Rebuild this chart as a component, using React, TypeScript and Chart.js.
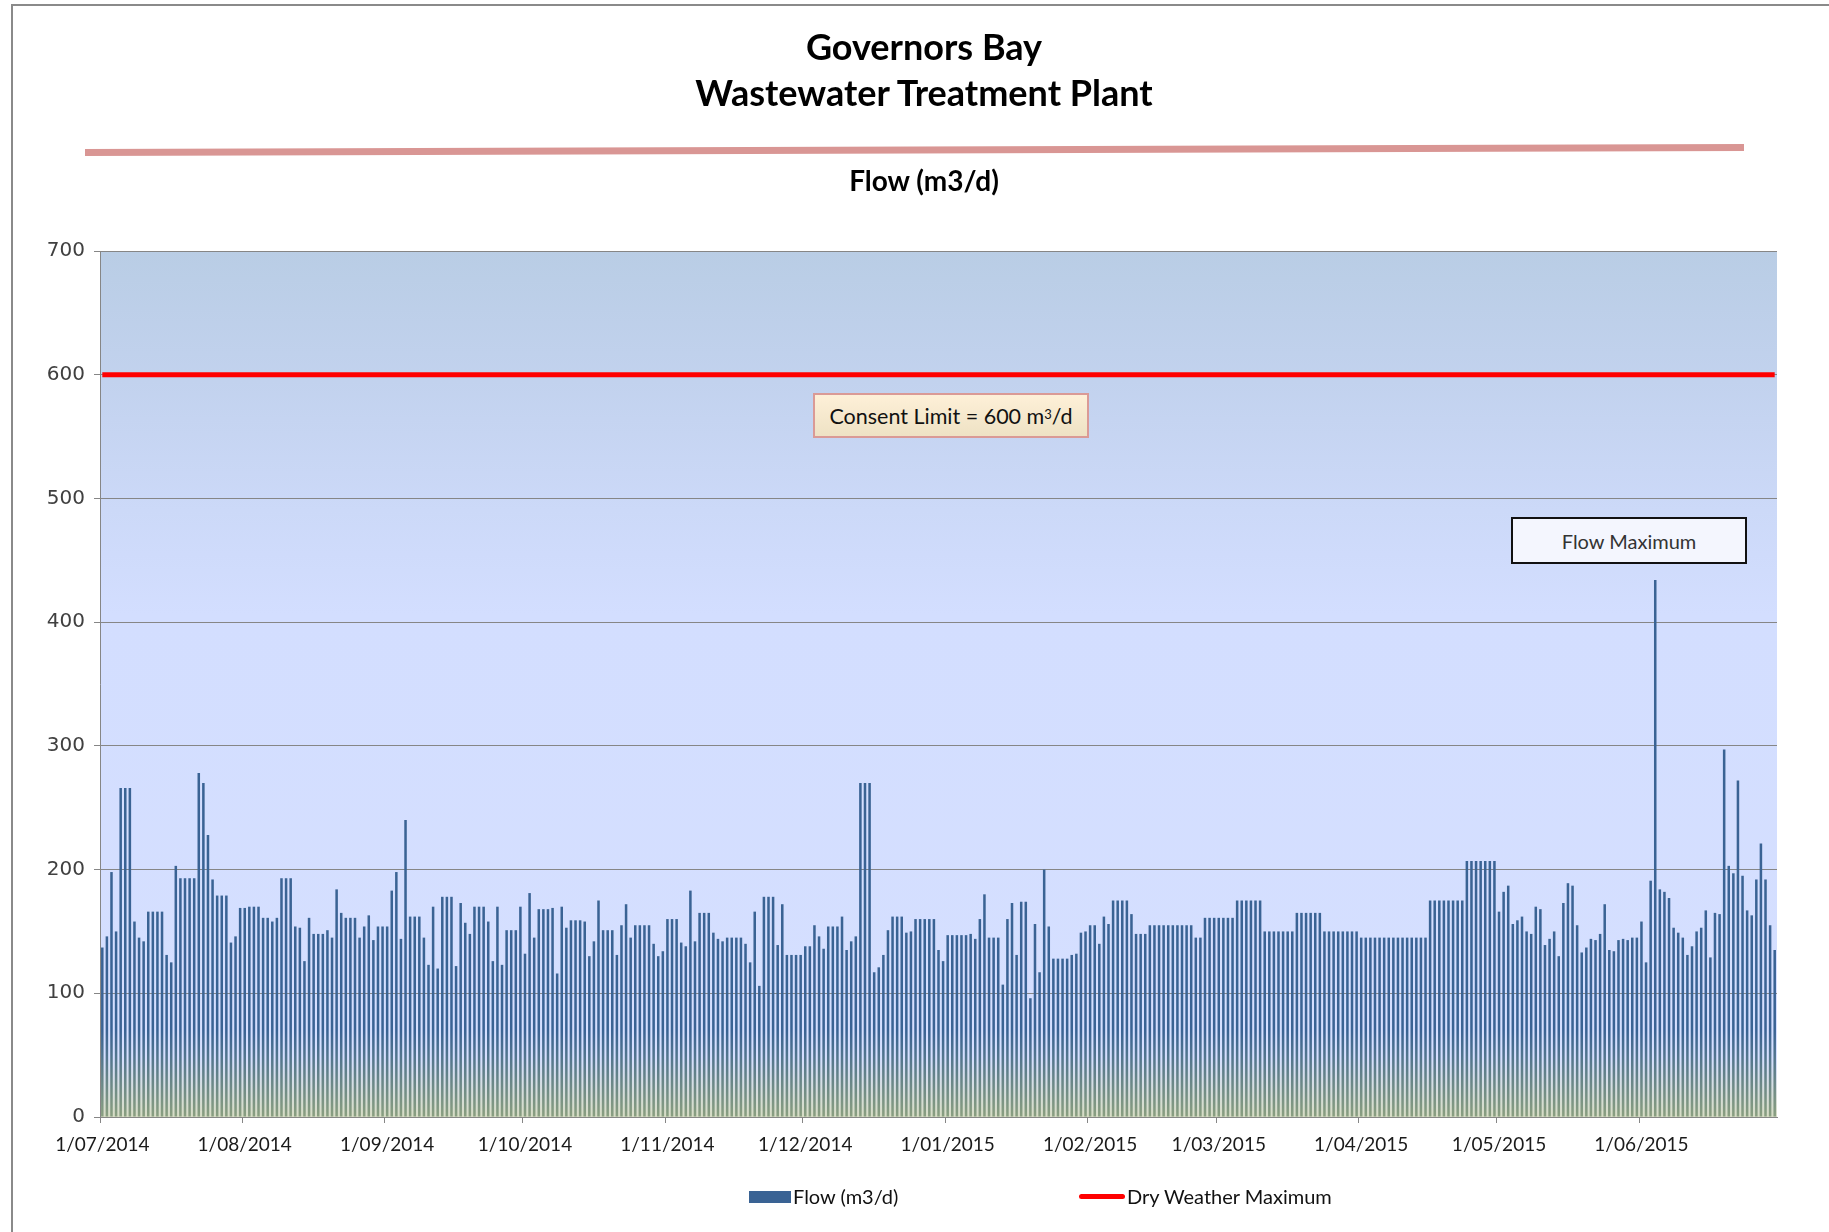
import React, { useEffect, useRef } from 'react';
import { Chart, registerables } from 'chart.js';

Chart.register(...registerables);

// Daily flow (m3/d), one array per month
const jul2014 = [137,146,198,150,266,266,266,158,145,142,166,166,166,166,131,125,203,193,193,193,193,278,270,228,192,179,179,179,141,146,169];
const aug2014 = [169,170,170,170,161,161,158,161,193,193,193,154,153,126,161,148,148,148,151,145,184,165,161,161,161,145,154,163,143,154,154];
const sep2014 = [154,183,198,144,240,162,162,162,145,123,170,120,178,178,178,122,173,157,148,170,170,170,158,126,170,123,151,151,151,170];
const oct2014 = [132,181,145,168,168,168,169,116,170,153,159,159,159,158,130,142,175,151,151,151,131,155,172,145,155,155,155,155,140,130,134];
const nov2014 = [160,160,160,141,138,183,142,165,165,165,149,144,142,145,145,145,145,140,125,166,106,178,178,178,139,172,131,131,131,131];
const dec2014 = [138,138,155,146,136,154,154,154,162,135,142,146,270,270,270,117,121,131,151,162,162,162,149,150,160,160,160,160,160,135,126];
const jan2015 = [147,147,147,147,147,148,144,160,180,145,145,145,107,160,173,131,174,174,96,156,117,200,154,128,128,128,128,131,132,149,150];
const feb2015 = [155,155,140,162,156,175,175,175,175,164,148,148,148,155,155,155,155,155,155,155,155,155,155,145,145,161,161,161];
const mar2015 = [161,161,161,161,175,175,175,175,175,175,150,150,150,150,150,150,150,165,165,165,165,165,165,150,150,150,150,150,150,150,150];
const apr2015 = [145,145,145,145,145,145,145,145,145,145,145,145,145,145,145,175,175,175,175,175,175,175,175,207,207,207,207,207,207,207];
const may2015 = [166,182,187,156,159,162,150,148,170,168,139,144,150,130,173,189,187,155,133,137,144,143,148,172,135,134,143,144,143,145,145];
const jun2015 = [158,125,191,434,184,182,177,153,149,145,131,138,150,153,167,129,165,164,297,203,197,272,195,167,163,192,221,192,155,135];

const monthKeys = ['07/2014','08/2014','09/2014','10/2014','11/2014','12/2014','01/2015','02/2015','03/2015','04/2015','05/2015','06/2015'];
const monthTickLabels = ['1/07/2014','1/08/2014','1/09/2014','1/10/2014','1/11/2014','1/12/2014','1/01/2015','1/02/2015','1/03/2015','1/04/2015','1/05/2015','1/06/2015'];
const dryWeatherMaximum = 600;
const yMin = 0;
const yMax = 700;
const yStep = 100;

const flowMonths = [jul2014, aug2014, sep2014, oct2014, nov2014, dec2014, jan2015, feb2015, mar2015, apr2015, may2015, jun2015];

const dayLabels: string[] = [];
const monthStartLabel = new Map<number, string>();
flowMonths.forEach((m, mi) => {
  monthStartLabel.set(dayLabels.length, monthTickLabels[mi]);
  m.forEach((_, d) => dayLabels.push(`${d + 1}/${monthKeys[mi]}`));
});
const flow = flowMonths.flat();
const limitSeries = dayLabels.map(() => dryWeatherMaximum);

const plotBackground = {
  id: 'plotBackground',
  beforeDraw(chart: any) {
    const { ctx, chartArea } = chart;
    if (!chartArea) return;
    const { left, top, right, bottom } = chartArea;
    const g = ctx.createLinearGradient(0, top, 0, bottom);
    g.addColorStop(0, '#B9CDE5');
    g.addColorStop(0.15, '#C2D2EE');
    g.addColorStop(0.3, '#CCD9F8');
    g.addColorStop(0.42, '#D3DEFF');
    g.addColorStop(0.93, '#D5DFFF');
    g.addColorStop(1, '#D6DCC4');
    ctx.save();
    ctx.fillStyle = g;
    ctx.fillRect(left, top, right - left, bottom - top);
    ctx.restore();
  },
};

export default function App() {
  const canvasRef = useRef<HTMLCanvasElement | null>(null);

  useEffect(() => {
    const canvas = canvasRef.current;
    if (!canvas) return;
    const chart = new Chart(canvas, {
      type: 'bar',
      data: {
        labels: dayLabels,
        datasets: [
          {
            type: 'line',
            label: 'Dry Weather Maximum',
            data: limitSeries,
            borderColor: '#FF0000',
            borderWidth: 5,
            pointRadius: 0,
            order: 0,
          } as any,
          {
            type: 'bar',
            label: 'Flow (m3/d)',
            data: flow,
            backgroundColor: (ctx: any) => {
              const area = ctx.chart.chartArea;
              if (!area) return '#3A6394';
              const g = ctx.chart.ctx.createLinearGradient(0, area.top, 0, area.bottom);
              g.addColorStop(0, '#3A6394');
              g.addColorStop(0.9, '#3A6394');
              g.addColorStop(1, '#8A9F80');
              return g;
            },
            barPercentage: 0.55,
            categoryPercentage: 1,
            order: 1,
          } as any,
        ],
      },
      options: {
        responsive: false,
        animation: false,
        devicePixelRatio: 1,
        layout: { padding: { top: 251, right: 52, bottom: 65, left: 0 } },
        plugins: {
          legend: { display: false },
          title: { display: false },
          tooltip: { enabled: false },
        },
        scales: {
          x: {
            type: 'category',
            offset: true,
            grid: {
              offset: true,
              drawOnChartArea: false,
              tickLength: 6,
              color: (c: any) => (monthStartLabel.has(c.index) || c.index >= dayLabels.length ? '#868686' : 'rgba(0,0,0,0)'),
            },
            border: { color: '#868686', width: 1 },
            ticks: {
              autoSkip: false,
              maxRotation: 0,
              minRotation: 0,
              padding: 10,
              color: '#1a1a1a',
              font: { family: 'Lato', size: 19 },
              callback: (_v: any, i: number) => monthStartLabel.get(i) ?? '',
            },
            afterFit: (s: any) => { s.height = 50; },
          },
          y: {
            min: yMin,
            max: yMax,
            ticks: {
              stepSize: yStep,
              padding: 9,
              color: '#404040',
              font: { family: 'DejaVu Sans', size: 20 },
            },
            grid: { color: '#868686', lineWidth: 1, tickLength: 6 },
            border: { color: '#868686', width: 1 },
            afterFit: (s: any) => { s.width = 100; },
          },
        },
      },
      plugins: [plotBackground],
    });
    return () => chart.destroy();
  }, []);

  const centered = (x: number, y: number): React.CSSProperties => ({
    position: 'absolute', left: x, top: y, transform: 'translate(-50%, -50%)', whiteSpace: 'nowrap',
  });

  return (
    <div style={{ position: 'fixed', left: 0, top: 0, width: 1829, height: 1232, background: '#fff', overflow: 'hidden', fontFamily: 'Lato, sans-serif' }}>
      <div style={{ position: 'absolute', left: 11, top: 4, width: 1840, height: 1240, border: '2px solid #8a8a8a', boxSizing: 'border-box' }} />
      <canvas ref={canvasRef} width={1829} height={1232} style={{ position: 'absolute', left: 0, top: 0, width: 1829, height: 1232 }} />
      <div style={{ ...centered(924, 46), fontSize: 36, fontWeight: 700, color: '#000' }}>Governors Bay</div>
      <div style={{ ...centered(924, 92), fontSize: 36, fontWeight: 700, color: '#000' }}>Wastewater Treatment Plant</div>
      <div style={{ position: 'absolute', left: 85, top: 149, width: 1659, height: 7, background: '#D99694', transform: 'rotate(-0.17deg)', transformOrigin: 'left center' }} />
      <div style={{ ...centered(924, 180), fontSize: 28, fontWeight: 700, color: '#000' }}>Flow (m3/d)</div>
      <div style={{ position: 'absolute', left: 813, top: 393, width: 276, height: 45, boxSizing: 'border-box', border: '2px solid #DA9A96', background: 'linear-gradient(#FEF0D8, #EEE2C4)', display: 'flex', alignItems: 'center', justifyContent: 'center', fontSize: 21.5, color: '#111' }}>
        Consent Limit = 600 m<sup style={{ fontSize: 13, lineHeight: 0, position: 'relative', top: -2 }}>3</sup>/d
      </div>
      <div style={{ position: 'absolute', left: 1511, top: 517, width: 236, height: 47, boxSizing: 'border-box', border: '2px solid #111', background: '#F4F6FE', display: 'flex', alignItems: 'center', justifyContent: 'center', fontSize: 20, color: '#333' }}>
        Flow Maximum
      </div>
      <div style={{ position: 'absolute', left: 749, top: 1191, width: 42, height: 12, background: '#3A6394' }} />
      <div style={{ position: 'absolute', left: 793, top: 1196, transform: 'translateY(-50%)', fontSize: 20, color: '#111', whiteSpace: 'nowrap' }}>Flow (m3/d)</div>
      <div style={{ position: 'absolute', left: 1079, top: 1194, width: 46, height: 5, borderRadius: 3, background: '#FF0000' }} />
      <div style={{ position: 'absolute', left: 1127, top: 1196, transform: 'translateY(-50%)', fontSize: 20, color: '#111', whiteSpace: 'nowrap' }}>Dry Weather Maximum</div>
    </div>
  );
}
